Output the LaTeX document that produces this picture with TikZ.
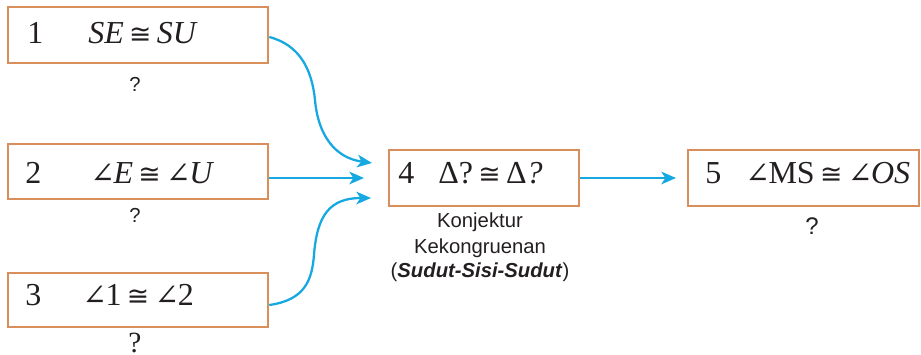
\documentclass[tikz,border=0pt]{standalone}
\usepackage{fontspec}
\setmainfont{Liberation Serif}
\setsansfont{Liberation Sans}
\newfontfamily\symf{DejaVu Serif}
\newfontfamily\symg{DejaVu Sans}
\usetikzlibrary{arrows.meta}
\definecolor{boxor}{HTML}{D98F5C}
\definecolor{arr}{HTML}{16A8E0}
\definecolor{ink}{HTML}{231F20}
\newcommand{\ang}{{\symf\fontsize{22}{26}\selectfont ∠}\kern-1pt}
\newcommand{\cng}{\kern4pt{\symg\fontsize{20}{24}\selectfont ≅}\kern4pt}
\begin{document}
\begin{tikzpicture}[x=0.75pt,y=-0.75pt,
  box/.style={draw=boxor,line width=1.9pt,inner sep=0pt},
  big/.style={font=\fontsize{24}{30}\selectfont,text=ink,anchor=base west,inner sep=0pt},
  lab/.style={font=\sffamily\fontsize{15.2}{18}\selectfont,text=ink,anchor=base,inner sep=0pt},
  conn/.style={draw=arr,line width=1.7pt,-{Stealth[length=11pt,width=9.5pt,inset=3pt]}}]
\useasboundingbox (0,0) rectangle (921,354);
% boxes
\node[box,minimum width=195pt,minimum height=42pt] (b1) at (138,35) {};
\node[box,minimum width=195pt,minimum height=41.25pt] (b2) at (138,171.5) {};
\node[box,minimum width=195pt,minimum height=40.5pt] (b3) at (138,300) {};
\node[box,minimum width=142.5pt,minimum height=42pt] (b4) at (484,178) {};
\node[box,minimum width=173.25pt,minimum height=42pt] (b5) at (803.5,178) {};
% box texts
\node[big] (n1) at (27,43) {1};
\node[big] (f1) at (88,43) {\textit{SE}\cng\textit{SU}};
\node[big] (n2) at (25,183) {2};
\node[big] (f2) at (90,183) {\ang\textit{E}\cng\ang\textit{U}};
\node[big] (n3) at (25,305) {3};
\node[big] (f3) at (82,305) {\ang1\cng\ang2};
\node[big] (n4) at (398,183) {4};
\node[big] (f4) at (438,183) {Δ?\cng Δ\textit{?}};
\node[big] (n5) at (705,183) {5};
\node[big] (f5) at (745,183) {\ang MS\cng\ang\textit{OS}};
% labels
\node[lab] (q1) at (135,91) {?};
\node[lab] (q2) at (135,222) {?};
\node[lab,font=\fontsize{22}{26}\selectfont] (q3) at (135,352) {?};
\node[lab,font=\sffamily\fontsize{18}{22}\selectfont] (q5) at (812,234) {?};
\node[lab] (k1) at (480,227) {Konjektur};
\node[lab] (k2) at (480,253) {Kekongruenan};
\node[lab] (k3) at (480,277) {(\textbf{\textit{Sudut-Sisi-Sudut}})};
% connectors
\coordinate (e1) at (372,163);
\coordinate (e2) at (364,178);
\coordinate (e3) at (371,198);
\coordinate (e4) at (676,178);
\draw[conn] ([yshift=-1.5pt]b1.east) .. controls (300,45) and (312,70) .. (315,100)
  .. controls (318,135) and (335,158) .. (e1);
\draw[conn] (b2.east |- e2) -- (e2);
\draw[conn] ([yshift=-3.75pt]b3.east) .. controls (305,300) and (312,280) .. (314,255)
  .. controls (317,215) and (330,198) .. (e3);
\draw[conn] (b4.east) -- (e4);
\end{tikzpicture}
\end{document}
